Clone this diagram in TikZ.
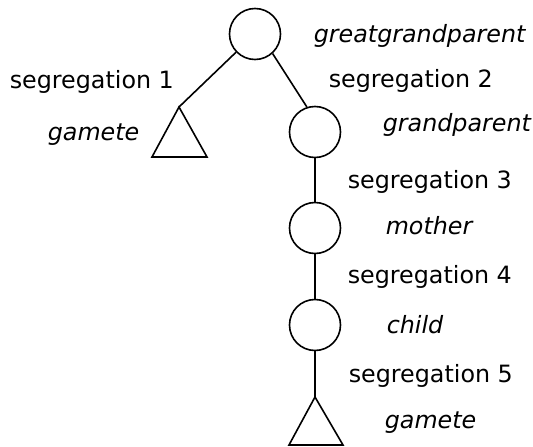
\documentclass[tikz,border=0pt]{standalone}
\usepackage{fontspec}
\setmainfont{DejaVu Sans}
\begin{document}
\begin{tikzpicture}[x=1pt,y=-1pt,line width=1.6pt,
  person/.style={circle,draw,minimum size=51pt,inner sep=0pt},
  gamshape/.style={draw,line join=miter},
  lbl/.style={anchor=base west,inner sep=0pt,font=\fontsize{23.8}{28}\selectfont},
  rel/.style={lbl,font=\fontsize{23.8}{28}\selectfont\itshape}]
\useasboundingbox (0,0) rectangle (533,447);

% individuals
\node[person] (ggp) at (255,34) {};
\node[person] (gp)  at (315,132) {};
\node[person] (mo)  at (315,228) {};
\node[person] (ch)  at (315,325) {};

% gametes
\coordinate (g1) at (179,107);
\coordinate (g2) at (315,397);
\draw[gamshape] (g1) -- (207,157) -- (152,157) -- cycle;
\draw[gamshape] (g2) -- (343,445) -- (289,445) -- cycle;

% transmissions
\draw (ggp) -- (g1);
\draw (ggp.-48) -- (gp.108);
\draw (gp.south) -- (mo.north);
\draw (mo.south) -- (ch.north);
\draw (ch.south) -- (g2);

% labels
\node[rel] (lggp) at (313,42) {greatgrandparent};
\node[lbl] (ls1) at (9,88) {segregation 1};
\node[lbl] (ls2) at (328,87) {segregation 2};
\node[rel] (lg1) at (47,140) {gamete};
\node[rel] (lgp) at (382,131) {grandparent};
\node[lbl] (ls3) at (347,188) {segregation 3};
\node[rel] (lmo) at (385,234) {mother};
\node[lbl] (ls4) at (347,283) {segregation 4};
\node[rel] (lch) at (386,333) {child};
\node[lbl] (ls5) at (348,382) {segregation 5};
\node[rel] (lg2) at (384,428) {gamete};
\end{tikzpicture}
\end{document}
